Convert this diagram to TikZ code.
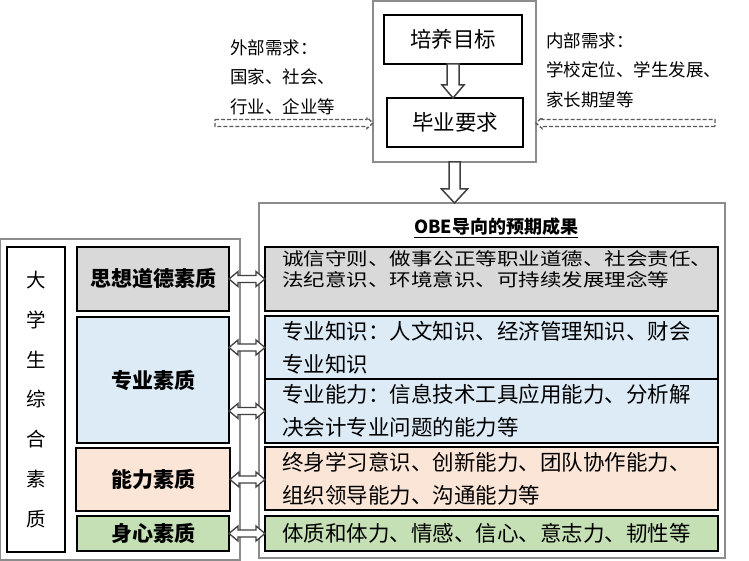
\documentclass[tikz,border=0pt]{standalone}
\usepackage{fontspec}
\setmainfont{Noto Sans CJK SC}
\usepackage{tikz}
\usetikzlibrary{shapes,arrows,positioning,calc}

\definecolor{moralgray}{HTML}{D9D9D9}
\definecolor{profblue}{HTML}{DDEBF7}
\definecolor{abilpeach}{HTML}{FBE5D6}
\definecolor{bodygreen}{HTML}{C5E0B4}
\definecolor{framegray}{HTML}{8C8C8C}
\definecolor{dashgray}{HTML}{595959}
\definecolor{arrowgray}{HTML}{404040}

\begin{document}
\begin{tikzpicture}[x=1pt,y=-1pt,
  box/.style={draw,line width=1.2pt,inner sep=0pt,outer sep=0pt},
  grayframe/.style={draw=framegray,line width=1.2pt,inner sep=0pt,outer sep=0pt},
  cat/.style={box,font=\bfseries\fontsize{21}{25}\selectfont},
  res/.style={box,minimum width=453pt,text width=419pt,inner xsep=17pt,align=left,font=\fontsize{21.5}{33}\selectfont},
  side/.style={align=left,anchor=west,inner sep=0pt,font=\fontsize{17.5}{29.5}\selectfont},
  fat/.style={draw=arrowgray,line width=1.5pt,fill=white},
  dashfat/.style={draw=dashgray,line width=1.3pt,dash pattern=on 4pt off 2pt,fill=white},
  hollow/.style n args={3}{to path={
    ($(\tikztostart)!#1!90:(\tikztotarget)$) --
    ($(\tikztotarget)!#3!(\tikztostart)!#1!-90:(\tikztostart)$) --
    ($(\tikztotarget)!#3!(\tikztostart)!#2!-90:(\tikztostart)$) --
    (\tikztotarget) --
    ($(\tikztotarget)!#3!(\tikztostart)!#2!90:(\tikztostart)$) --
    ($(\tikztotarget)!#3!(\tikztostart)!#1!90:(\tikztostart)$) --
    ($(\tikztostart)!#1!-90:(\tikztotarget)$) -- cycle}},
  dhollow/.style n args={3}{to path={
    (\tikztostart) --
    ($(\tikztostart)!#3!(\tikztotarget)!#2!90:(\tikztotarget)$) --
    ($(\tikztostart)!#3!(\tikztotarget)!#1!90:(\tikztotarget)$) --
    ($(\tikztotarget)!#3!(\tikztostart)!#1!-90:(\tikztostart)$) --
    ($(\tikztotarget)!#3!(\tikztostart)!#2!-90:(\tikztostart)$) --
    (\tikztotarget) --
    ($(\tikztotarget)!#3!(\tikztostart)!#2!90:(\tikztostart)$) --
    ($(\tikztotarget)!#3!(\tikztostart)!#1!90:(\tikztostart)$) --
    ($(\tikztostart)!#3!(\tikztotarget)!#1!-90:(\tikztotarget)$) --
    ($(\tikztostart)!#3!(\tikztotarget)!#2!-90:(\tikztotarget)$) -- cycle}}]
  \useasboundingbox (0,0) rectangle (749,561);

  \node [grayframe,minimum width=163pt,minimum height=161pt] (topframe) at (454.5,81.5) {};
  \node [box,minimum width=138pt,minimum height=49pt,font=\fontsize{21.5}{25}\selectfont] (goal) at (453,39.5) {培养目标};
  \node [box,minimum width=136pt,minimum height=49pt,font=\fontsize{21.5}{25}\selectfont] (req) at (455,122.5) {毕业要求};
  \node [side] (ext) at (230,77) {外部需求：\\国家、社会、\\行业、企业等};
  \node [side] (int) at (546,70) {内部需求：\\学校定位、学生发展、\\家长期望等};
  \coordinate (extsrc) at (215,123);
  \coordinate (intsrc) at (715,123);

  \draw [fat,hollow={6pt}{11pt}{13pt}] (goal.south) to (goal.south |- req.north);
  \draw [dashfat,hollow={3.5pt}{5.5pt}{6pt}] (extsrc) to (extsrc -| topframe.west);
  \draw [dashfat,hollow={3.5pt}{5.5pt}{6pt}] (intsrc) to (intsrc -| topframe.east);

  \node [grayframe,minimum width=239.5pt,minimum height=321pt] (leftframe) at (120.25,399.5) {};
  \node [box,minimum width=58pt,minimum height=305pt,align=center,font=\fontsize{19.5}{39.7}\selectfont] (allround) at (36,399.5) {大\\学\\生\\综\\合\\素\\质};
  \node [cat,fill=moralgray,minimum width=152pt,minimum height=64pt] (moral) at (153,279) {思想道德素质};
  \node [cat,fill=profblue,minimum width=152pt,minimum height=126pt] (prof) at (153,380) {专业素质};
  \node [cat,fill=abilpeach,minimum width=154pt,minimum height=63pt] (abil) at (153,479.5) {能力素质};
  \node [cat,fill=bodygreen,minimum width=152pt,minimum height=35pt] (health) at (153,533.5) {身心素质};

  \node [grayframe,minimum width=466pt,minimum height=355pt] (obeframe) at (492,380.5) {};
  \node [font=\bfseries\fontsize{18}{22}\selectfont] (obetitle) at (496,228) {\underline{OBE导向的预期成果}};
  \node [res,fill=moralgray,minimum height=64pt] (ethic) at (491.5,279) {\raisebox{8pt}[\height][\depth]{\scalebox{1}[0.82]{\fontsize{21.5}{22}\selectfont\begin{tabular}{@{}l@{}}诚信守则、做事公正等职业道德、社会责任、\\法纪意识、环境意识、可持续发展理念等\end{tabular}}}};
  \node [res,fill=profblue,minimum height=63pt] (know) at (491.5,347.5) {专业知识：人文知识、经济管理知识、财会\\专业知识};
  \node [res,fill=profblue,minimum height=64pt,below=0pt of know] (skill) {专业能力：信息技术工具应用能力、分析解\\决会计专业问题的能力等};
  \node [res,fill=abilpeach,minimum height=63pt] (learn) at (491.5,478.5) {终身学习意识、创新能力、团队协作能力、\\组织领导能力、沟通能力等};
  \node [res,fill=bodygreen,minimum height=35pt] (vigor) at (491.5,533.5) {体质和体力、情感、信心、意志力、韧性等};

  \draw [fat,hollow={5.5pt}{13pt}{14pt}] (topframe.south) to (topframe.south |- obeframe.north);
  \draw [fat,line width=1.3pt,dhollow={3.5pt}{7.5pt}{9pt}] (moral.east) to (ethic.west);
  \draw [fat,line width=1.3pt,dhollow={3.5pt}{7.5pt}{9pt}] (prof.east |- know.west) to (know.west);
  \draw [fat,line width=1.3pt,dhollow={3.5pt}{7.5pt}{9pt}] (prof.east |- skill.west) to (skill.west);
  \draw [fat,line width=1.3pt,dhollow={3.5pt}{7.5pt}{9pt}] (abil.east) to (abil.east -| learn.west);
  \draw [fat,line width=1.3pt,dhollow={3.5pt}{7.5pt}{9pt}] (health.east) to (vigor.west);
\end{tikzpicture}
\end{document}
